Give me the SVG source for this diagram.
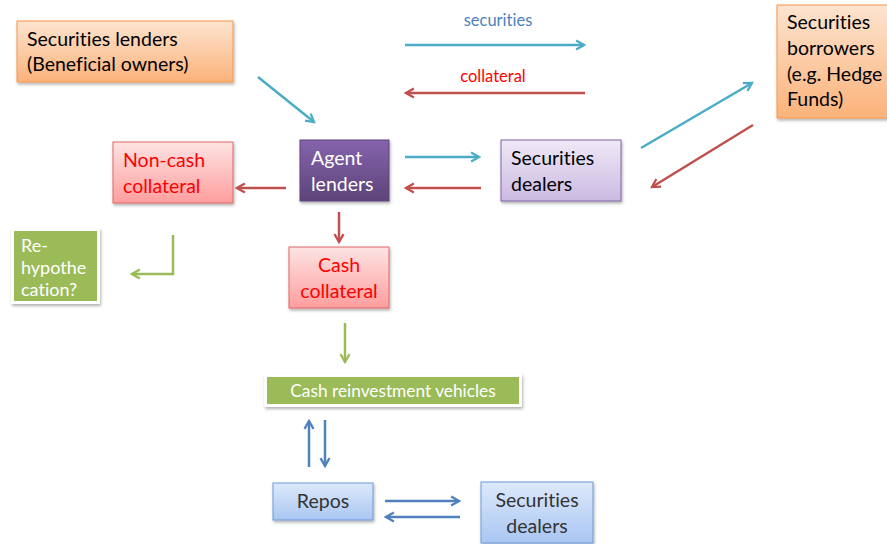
<svg xmlns="http://www.w3.org/2000/svg" width="887" height="544" viewBox="0 0 887 544">
<defs>
<linearGradient id="gOrange" x1="0" y1="0" x2="0" y2="1"><stop offset="0" stop-color="#fde4cf"/><stop offset="1" stop-color="#fbb27a"/></linearGradient>
<linearGradient id="gPurple" x1="0" y1="0" x2="0" y2="1"><stop offset="0" stop-color="#8663ad"/><stop offset="1" stop-color="#5c4478"/></linearGradient>
<linearGradient id="gLilac" x1="0" y1="0" x2="0" y2="1"><stop offset="0" stop-color="#efe9f6"/><stop offset="1" stop-color="#cbbae3"/></linearGradient>
<linearGradient id="gRed" x1="0" y1="0" x2="0" y2="1"><stop offset="0" stop-color="#fde3e3"/><stop offset="1" stop-color="#ff9e9e"/></linearGradient>
<linearGradient id="gBlue" x1="0" y1="0" x2="0" y2="1"><stop offset="0" stop-color="#dde9fb"/><stop offset="1" stop-color="#a9c6f2"/></linearGradient>
<filter id="sh" x="-10%" y="-10%" width="130%" height="140%"><feDropShadow dx="1" dy="2" stdDeviation="1.5" flood-color="#000" flood-opacity="0.3"/></filter>
<marker id="mTeal" viewBox="0 0 10 10" refX="8" refY="5" markerWidth="4.5" markerHeight="4.5" orient="auto" markerUnits="strokeWidth"><path d="M1,1 L8,5 L1,9" fill="none" stroke="#4bacc6" stroke-width="2"/></marker>
<marker id="mRed" viewBox="0 0 10 10" refX="8" refY="5" markerWidth="4.5" markerHeight="4.5" orient="auto" markerUnits="strokeWidth"><path d="M1,1 L8,5 L1,9" fill="none" stroke="#c0504d" stroke-width="2"/></marker>
<marker id="mGreen" viewBox="0 0 10 10" refX="8" refY="5" markerWidth="4.5" markerHeight="4.5" orient="auto" markerUnits="strokeWidth"><path d="M1,1 L8,5 L1,9" fill="none" stroke="#9bbb59" stroke-width="2"/></marker>
<marker id="mBlue" viewBox="0 0 10 10" refX="8" refY="5" markerWidth="4.5" markerHeight="4.5" orient="auto" markerUnits="strokeWidth"><path d="M1,1 L8,5 L1,9" fill="none" stroke="#4f81bd" stroke-width="2"/></marker>
</defs>
<style>
text{font-family:Lato,"Liberation Sans",sans-serif;font-size:19.5px;font-variant-ligatures:none}
.lbl{font-size:16.5px}
.teal{stroke:#4bacc6;stroke-width:2.5;fill:none;marker-end:url(#mTeal)}
.red{stroke:#c0504d;stroke-width:2.5;fill:none;marker-end:url(#mRed)}
.green{stroke:#9bbb59;stroke-width:2.5;fill:none;marker-end:url(#mGreen)}
.blue{stroke:#4f81bd;stroke-width:2.5;fill:none;marker-end:url(#mBlue)}
</style>
<rect width="887" height="544" fill="#ffffff"/>
<g id="connectors">
<path class="teal" d="M405,45 L584,45"/>
<path class="red" d="M585,93 L406,93"/>
<path class="teal" d="M258,77 L314,122"/>
<path class="teal" d="M405,157 L479,157"/>
<path class="red" d="M481,188 L406,188"/>
<path class="red" d="M286,188 L237,188"/>
<path class="red" d="M339,212 L339,242"/>
<path class="green" d="M173,235 L173,274 L132,274"/>
<path class="green" d="M345,323 L345,362"/>
<path class="blue" d="M309,467 L309,421"/>
<path class="blue" d="M325,420 L325,466"/>
<path class="blue" d="M385,501 L459,501"/>
<path class="blue" d="M460,517 L386,517"/>
<path class="teal" d="M641,148 L752,83"/>
<path class="red" d="M753,125 L652,187"/>
<text class="lbl" x="498" y="26" text-anchor="middle" fill="#4f81bd">securities</text>
<text class="lbl" x="493" y="82" text-anchor="middle" fill="#ff0000">collateral</text>
</g>
<g id="securities-lenders">
<rect x="17" y="21" width="216" height="61" fill="url(#gOrange)" stroke="#f79646" stroke-width="1" filter="url(#sh)"/>
<text x="27" y="46" fill="#000">Securities lenders</text>
<text x="27" y="71" fill="#000">(Beneficial owners)</text>
</g>
<g id="securities-borrowers">
<rect x="777" y="5" width="115" height="113" fill="url(#gOrange)" stroke="#f79646" stroke-width="1" filter="url(#sh)"/>
<text x="787" y="29" fill="#000">Securities</text>
<text x="787" y="55" fill="#000">borrowers</text>
<text x="787" y="81" fill="#000">(e.g. Hedge</text>
<text x="787" y="106" fill="#000">Funds)</text>
</g>
<g id="agent-lenders">
<rect x="300" y="140" width="89" height="61" fill="url(#gPurple)" stroke="#5c4478" stroke-width="1" filter="url(#sh)"/>
<text x="311" y="165" fill="#ffffff">Agent</text>
<text x="311" y="191" fill="#ffffff">lenders</text>
</g>
<g id="securities-dealers-top">
<rect x="501" y="140" width="120" height="61" fill="url(#gLilac)" stroke="#8064a2" stroke-width="1" filter="url(#sh)"/>
<text x="511" y="165" fill="#000">Securities</text>
<text x="511" y="191" fill="#000">dealers</text>
</g>
<g id="non-cash-collateral">
<rect x="113" y="142" width="120" height="61" fill="url(#gRed)" stroke="#e06666" stroke-width="1" filter="url(#sh)"/>
<text x="123" y="167" fill="#ff0000">Non-cash</text>
<text x="123" y="193" fill="#ff0000">collateral</text>
</g>
<g id="rehypothecation">
<rect x="11" y="228" width="89" height="76" fill="#ffffff" filter="url(#sh)"/>
<rect x="14" y="231" width="83" height="70" fill="#9bbb59"/>
<text x="21" y="252" fill="#ffffff" style="font-size:18px">Re-</text>
<text x="21" y="274" fill="#ffffff" style="font-size:18px">hypothe</text>
<text x="21" y="296" fill="#ffffff" style="font-size:18px">cation?</text>
</g>
<g id="cash-collateral">
<rect x="289" y="247" width="100" height="61" fill="url(#gRed)" stroke="#e06666" stroke-width="1" filter="url(#sh)"/>
<text x="339" y="272" text-anchor="middle" fill="#ff0000">Cash</text>
<text x="339" y="298" text-anchor="middle" fill="#ff0000">collateral</text>
</g>
<g id="cash-reinvestment">
<rect x="264" y="374" width="258" height="33" fill="#ffffff" filter="url(#sh)"/>
<rect x="267" y="377" width="252" height="27" fill="#9bbb59"/>
<text x="393" y="397" text-anchor="middle" fill="#ffffff" style="font-size:17.3px">Cash reinvestment vehicles</text>
</g>
<g id="repos">
<rect x="273" y="483" width="100" height="37" fill="url(#gBlue)" stroke="#6d9ad8" stroke-width="1" filter="url(#sh)"/>
<text x="323" y="508" text-anchor="middle" fill="#333333">Repos</text>
</g>
<g id="securities-dealers-bottom">
<rect x="481" y="482" width="112" height="61" fill="url(#gBlue)" stroke="#6d9ad8" stroke-width="1" filter="url(#sh)"/>
<text x="537" y="507" text-anchor="middle" fill="#333333">Securities</text>
<text x="537" y="533" text-anchor="middle" fill="#333333">dealers</text>
</g>
</svg>
